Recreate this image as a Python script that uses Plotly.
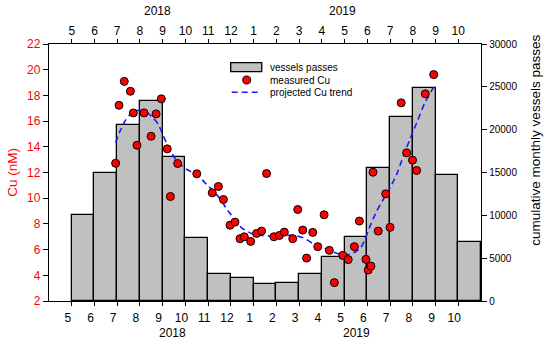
import plotly.graph_objects as go

# month index: 5 = May 2018, 12 = Dec 2018, 13 = Jan 2019, ..., 22 = Oct 2019
bar_month = list(range(5, 23))
vessels = [10000, 14900, 20500, 23400, 16800, 7300, 3100, 2700, 2000,
           2150, 3100, 5100, 7500, 15500, 21500, 24900, 14700, 6850]

tick_month = list(range(5, 23))
tick_text = ["5", "6", "7", "8", "9", "10", "11", "12", "1",
             "2", "3", "4", "5", "6", "7", "8", "9", "10"]

cu_month = [6.93, 7.08, 7.31, 7.58, 7.71, 7.87, 8.18, 8.49, 8.71, 8.94,
            9.20, 9.34, 9.66, 10.50, 11.18, 11.45, 11.67, 11.96, 12.18, 12.40,
            12.59, 12.87, 13.13, 13.35, 13.57, 13.89, 14.13, 14.35, 14.72, 14.94,
            15.16, 15.33, 15.60, 15.82, 16.10, 16.33, 16.55, 16.92, 17.16, 17.43,
            17.65, 17.94, 18.04, 18.16, 18.25, 18.48, 18.81, 19.00, 19.49, 19.73,
            19.99, 20.17, 20.55, 20.92]
cu_value = [12.72, 17.23, 19.09, 18.32, 16.64, 14.12, 16.64, 14.82, 16.56, 17.73,
            13.84, 10.13, 12.70, 11.90, 10.42, 10.91, 9.90, 7.90, 8.14, 6.85,
            7.00, 6.64, 7.26, 7.44, 11.92, 7.00, 7.10, 7.36, 6.85, 9.12,
            7.52, 5.34, 7.34, 6.23, 8.71, 5.94, 3.43, 5.55, 5.22, 6.23,
            8.22, 5.24, 4.41, 4.72, 12.02, 7.44, 10.34, 7.73, 17.42, 13.53,
            12.96, 12.16, 18.12, 19.62]

trend_month = [6.93, 7.12, 7.34, 7.56, 7.86, 8.22, 8.52, 8.81, 9.10, 9.32,
               9.62, 10.06, 10.50, 10.93, 11.23, 11.52, 11.81, 12.10, 12.47, 12.91,
               13.35, 13.79, 14.30, 14.82, 15.18, 15.62, 16.06, 16.50, 16.87, 17.23,
               17.46, 17.71, 17.90, 18.12, 18.41, 18.70, 19.00, 19.29, 19.58, 19.87,
               20.17, 20.53, 20.94]
trend_cu = [14.31, 15.21, 15.99, 16.51, 16.82, 16.76, 16.37, 15.73, 14.56, 13.79,
            12.88, 12.23, 11.84, 11.07, 10.55, 9.96, 9.18, 8.48, 7.70, 7.26,
            7.10, 7.05, 7.10, 7.10, 6.93, 6.46, 6.15, 5.81, 5.63, 5.63,
            5.81, 6.15, 6.79, 7.83, 8.99, 9.90, 10.81, 11.85, 13.27, 14.56,
            15.86, 17.42, 18.71]

FONT = "Liberation Sans, Arial, sans-serif"
RED = "#ff0000"
BLUE = "#1a1aff"

fig = go.Figure()
fig.add_trace(go.Bar(
    x=bar_month, y=vessels, width=1, offset=0,
    marker=dict(color="#c0c0c0", line=dict(color="black", width=1.3)),
    xaxis="x", yaxis="y", showlegend=False, name="vessels passes"))
# empty trace so the top month axis is drawn
fig.add_trace(go.Scatter(x=[None], y=[None], mode="markers", xaxis="x2", yaxis="y",
                         showlegend=False, hoverinfo="skip"))
fig.add_trace(go.Scatter(
    x=trend_month, y=trend_cu, mode="lines",
    line=dict(color=BLUE, width=1.6, dash="6px,4px", shape="spline", smoothing=0.6),
    xaxis="x", yaxis="y2", showlegend=False, name="projected Cu trend"))
fig.add_trace(go.Scatter(
    x=cu_month, y=cu_value, mode="markers",
    marker=dict(color=RED, size=8, line=dict(color="black", width=1)),
    xaxis="x", yaxis="y2", showlegend=False, name="measured Cu"))

axis_common = dict(showline=True, linecolor="black", linewidth=1.3, showgrid=False,
                   zeroline=False, ticks="outside", tickcolor="black", tickwidth=1.3,
                   automargin=False)

fig.update_layout(
    template="none",
    width=550, height=343,
    margin=dict(l=49, r=69, t=44, b=42, pad=0),
    paper_bgcolor="white", plot_bgcolor="white",
    font=dict(family=FONT, color="black"),
    bargap=0,
    showlegend=False,
    xaxis=dict(range=[4, 23], tickvals=tick_month, ticktext=tick_text, ticklen=4,
               tickfont=dict(size=12), ticklabelshift=-4, ticklabelstandoff=1,
               side="bottom", anchor="y", **axis_common),
    xaxis2=dict(range=[4, 23], tickvals=tick_month, ticktext=tick_text, ticklen=4,
                tickfont=dict(size=12), ticklabelstandoff=-1, overlaying="x",
                side="top", anchor="y", **axis_common),
    yaxis=dict(range=[0, 30000], tickvals=[0, 5000, 10000, 15000, 20000, 25000, 30000],
               ticktext=["0", "5000", "10000", "15000", "20000", "25000", "30000"],
               side="right", anchor="x", ticklen=5, tickfont=dict(size=10), **axis_common),
    yaxis2=dict(range=[2, 22], dtick=2, overlaying="y", side="left", anchor="x",
                ticklen=5, tickfont=dict(size=12, color=RED), **axis_common),
)

annotations = [
    dict(text="Cu (nM)", x=-0.085, y=0.5, xref="paper", yref="paper", textangle=-90,
         xanchor="center", yanchor="middle", showarrow=False,
         font=dict(size=13.5, color=RED)),
    dict(text="cumulative monthly vessels passes", x=1.1257, y=0.625, xref="paper",
         yref="paper", textangle=-90, xanchor="center", yanchor="middle",
         showarrow=False, font=dict(size=13.5)),
    dict(text="2018", x=8.79, y=1.0, xref="x", yref="paper", xanchor="center",
         yanchor="middle", yshift=44 - 11, showarrow=False, font=dict(size=12)),
    dict(text="2019", x=16.92, y=1.0, xref="x", yref="paper", xanchor="center",
         yanchor="middle", yshift=44 - 11, showarrow=False, font=dict(size=12)),
    dict(text="2018", x=9.42, y=0.0, xref="x", yref="paper", xanchor="center",
         yanchor="middle", yshift=-(333 - 301), showarrow=False, font=dict(size=12)),
    dict(text="2019", x=17.53, y=0.0, xref="x", yref="paper", xanchor="center",
         yanchor="middle", yshift=-(333 - 301), showarrow=False, font=dict(size=12)),
    dict(text="vessels passes", x=0.5076, y=0.9093, xref="paper", yref="paper",
         xanchor="left", yanchor="middle", showarrow=False, font=dict(size=10)),
    dict(text="measured Cu", x=0.5076, y=0.8572, xref="paper", yref="paper",
         xanchor="left", yanchor="middle", showarrow=False, font=dict(size=10)),
    dict(text="projected Cu trend", x=0.5076, y=0.8121, xref="paper", yref="paper",
         xanchor="left", yanchor="middle", showarrow=False, font=dict(size=10)),
]
fig.update_layout(annotations=annotations)

shapes = [
    dict(type="rect", xref="paper", yref="paper", x0=0.4206, x1=0.4924, y0=0.8922, y1=0.9272,
         fillcolor="#c0c0c0", line=dict(color="black", width=1.3)),
    dict(type="circle", xref="paper", yref="paper", x0=0.4576 - 0.00926, x1=0.4576 + 0.00926,
         y0=0.8599 - 0.01556, y1=0.8599 + 0.01556, fillcolor=RED, line=dict(color="black", width=1)),
    dict(type="line", xref="paper", yref="paper", x0=0.4229, x1=0.4845, y0=0.8121, y1=0.8121,
         line=dict(color=BLUE, width=1.6, dash="6px,4px")),
]
fig.update_layout(shapes=shapes)

# remove the browser's default body margin so the figure sits at the window origin
fig.write_html("out.html", config={"displayModeBar": False},
               post_script="document.body.style.margin='0';")
